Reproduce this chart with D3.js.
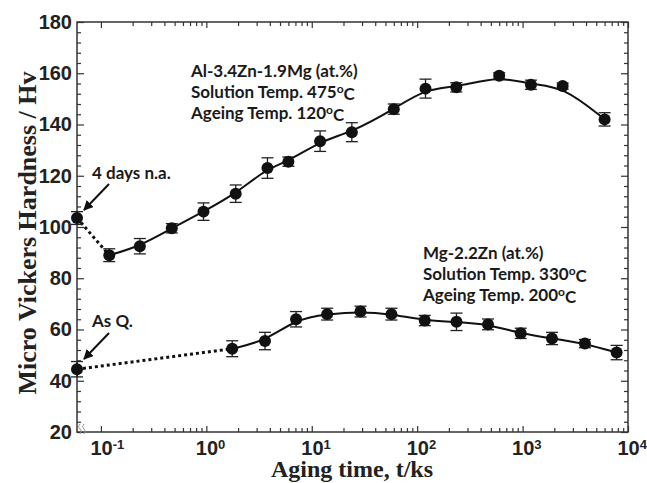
<!DOCTYPE html>
<meta charset="utf-8">
<script src="https://cdn.jsdelivr.net/npm/d3@7/dist/d3.min.js"></script>
<style>
    body { margin: 0; background: #fff; }
    .note { font-family: Lato, "Open Sans", sans-serif; font-weight: bold; font-size: 17px; fill: #1a1a1a; }
    .tk text { font-family: "Liberation Sans", Arial, sans-serif; font-weight: bold; font-size: 20px; fill: #222; }
    .tk line { stroke: #333; stroke-width: 1.2; }
    .tk path { display: none; }
    .axlabel { font-family: "Liberation Serif", "Times New Roman", serif; font-weight: bold; fill: #222; }
</style>

<svg width="647" height="483"></svg>

<script>
    // as quenched / natural aged points sit on the left edge of the axis
    var XMIN = 0.0593;

    // Al-3.4Zn-1.9Mg, aged at 120C
    var alTime = [XMIN, 0.12, 0.234, 0.47, 0.94, 1.9, 3.8, 6.0, 12, 24, 60, 120, 235, 600, 1200, 2400, 6000];
    var alHv = [103.5, 89, 92.5, 99.5, 106, 113, 123, 125.5, 133.5, 137, 146, 154, 154.5, 159, 155.5, 155, 142];
    var alErr = [2.5, 2.5, 3, 1.8, 3.4, 3.4, 4, 1.8, 4, 3.7, 2, 3.7, 1.8, 1.2, 1.8, 1.2, 2.6];

    // Mg-2.2Zn, aged at 200C
    var mgTime = [XMIN, 1.76, 3.6, 7.1, 14, 29, 57, 118, 236, 470, 960, 1900, 3900, 7800];
    var mgHv = [44.5, 52.5, 55.5, 64, 66, 67, 66, 63.5, 63, 62, 58.5, 56.5, 54.5, 51];
    var mgErr = [3, 3.1, 3.4, 3, 2.3, 2.1, 2.3, 2, 3.4, 2.1, 2, 2.4, 1.6, 2.8];

    var yTicks = [20, 40, 60, 80, 100, 120, 140, 160, 180];
    var xTicks = [0.1, 1, 10, 100, 1000, 10000];
    var xExp = ["-1", "0", "1", "2", "3", "4"];

    var svg = d3.select("svg");
    var pL = 77, pR = 628, pT = 22, pB = 432;

    var x = d3.scaleLog().domain([XMIN, 10000]).range([pL, pR]);
    var y = d3.scaleLinear().domain([20, 180]).range([pB, pT]);

    // minor ticks
    var xMinor = [];
    for (var d = -1; d < 4; d++) {
        for (var k = 2; k < 10; k++) xMinor.push(k * Math.pow(10, d));
    }
    var yMinor = d3.range(20, 181, 4).filter(function (v) { return v % 20 != 0; });

    // frame
    svg.append("rect")
        .attr("x", pL).attr("y", pT)
        .attr("width", pR - pL).attr("height", pB - pT)
        .attr("fill", "none").attr("stroke", "#333").attr("stroke-width", 1.5);

    // bottom axis
    var gx = svg.append("g").attr("class", "tk")
        .attr("transform", "translate(0," + pB + ")")
        .call(d3.axisBottom(x).tickValues(xTicks).tickSizeInner(-6).tickSizeOuter(0).tickPadding(9));
    gx.selectAll(".tick text")
        .attr("text-anchor", "start")
        .attr("x", -11)
        .text("10")
        .append("tspan")
        .attr("dy", "-0.45em")
        .style("font-size", "13px")
        .text(function (d, i) { return xExp[i]; });
    svg.append("g").attr("class", "tk")
        .attr("transform", "translate(0," + pB + ")")
        .call(d3.axisBottom(x).tickValues(xMinor).tickSizeInner(-4).tickSizeOuter(0).tickFormat(""));

    // top axis
    svg.append("g").attr("class", "tk")
        .attr("transform", "translate(0," + pT + ")")
        .call(d3.axisTop(x).tickValues(xTicks).tickSizeInner(-6).tickSizeOuter(0).tickFormat(""));
    svg.append("g").attr("class", "tk")
        .attr("transform", "translate(0," + pT + ")")
        .call(d3.axisTop(x).tickValues(xMinor).tickSizeInner(-4).tickSizeOuter(0).tickFormat(""));

    // left axis
    svg.append("g").attr("class", "tk")
        .attr("transform", "translate(" + pL + ",0)")
        .call(d3.axisLeft(y).tickValues(yTicks).tickSizeInner(-7).tickSizeOuter(0).tickPadding(5));
    svg.append("g").attr("class", "tk")
        .attr("transform", "translate(" + pL + ",0)")
        .call(d3.axisLeft(y).tickValues(yMinor).tickSizeInner(-4).tickSizeOuter(0).tickFormat(""));

    // right axis
    svg.append("g").attr("class", "tk")
        .attr("transform", "translate(" + pR + ",0)")
        .call(d3.axisRight(y).tickValues(yTicks).tickSizeInner(-7).tickSizeOuter(0).tickFormat(""));
    svg.append("g").attr("class", "tk")
        .attr("transform", "translate(" + pR + ",0)")
        .call(d3.axisRight(y).tickValues(yMinor).tickSizeInner(-4).tickSizeOuter(0).tickFormat(""));

    // axis break mark
    [0, 4].forEach(function (o) {
        svg.append("path")
            .attr("d", "M" + (pL + 3 + o) + "," + (pB + 2) + " q3,-3 0,-5 q-3,-2 0,-5")
            .attr("fill", "none").attr("stroke", "#999").attr("stroke-width", 1);
    });

    // axis titles
    svg.append("text").attr("class", "axlabel")
        .attr("x", 352).attr("y", 477)
        .attr("text-anchor", "middle")
        .style("font-size", "24px")
        .text("Aging time, t/ks");
    svg.append("text").attr("class", "axlabel")
        .attr("transform", "translate(36,233) rotate(-90)")
        .attr("text-anchor", "middle")
        .style("font-size", "26px")
        .text("Micro Vickers Hardness / Hv");

    function series(times, hv, err) {
        var pts = times.map(function (t, i) { return [t, hv[i], err[i]]; });
        var line = d3.line()
            .x(function (d) { return x(d[0]); })
            .y(function (d) { return y(d[1]); });

        // dotted link from the starting state
        svg.append("path")
            .datum(pts.slice(0, 2))
            .attr("d", line)
            .attr("fill", "none").attr("stroke", "#111")
            .attr("stroke-width", 3).attr("stroke-dasharray", "3,3");

        // fitted trend
        svg.append("path")
            .datum(pts.slice(1))
            .attr("d", line.curve(d3.curveBasis))
            .attr("fill", "none").attr("stroke", "#111").attr("stroke-width", 2);

        var g = svg.append("g").selectAll("g").data(pts).enter().append("g");
        g.append("line")
            .attr("x1", function (d) { return x(d[0]); })
            .attr("x2", function (d) { return x(d[0]); })
            .attr("y1", function (d) { return y(d[1] - d[2]); })
            .attr("y2", function (d) { return y(d[1] + d[2]); })
            .attr("stroke", "#222").attr("stroke-width", 1.3);
        [-1, 1].forEach(function (s) {
            g.append("line")
                .attr("x1", function (d) { return x(d[0]) - 6; })
                .attr("x2", function (d) { return x(d[0]) + 6; })
                .attr("y1", function (d) { return y(d[1] + s * d[2]); })
                .attr("y2", function (d) { return y(d[1] + s * d[2]); })
                .attr("stroke", "#222").attr("stroke-width", 1.3);
        });
        g.append("circle")
            .attr("cx", function (d) { return x(d[0]); })
            .attr("cy", function (d) { return y(d[1]); })
            .attr("r", 6)
            .attr("fill", "#111");
    }

    series(alTime, alHv, alErr);
    series(mgTime, mgHv, mgErr);

    // arrows
    svg.append("defs").append("marker")
        .attr("id", "ah")
        .attr("viewBox", "0 0 10 10")
        .attr("refX", 9).attr("refY", 5)
        .attr("markerWidth", 5).attr("markerHeight", 5)
        .attr("orient", "auto")
        .append("path").attr("d", "M0,0 L10,5 L0,10 z").attr("fill", "#111");

    function arrow(x1, y1, x2, y2) {
        svg.append("line")
            .attr("x1", x1).attr("y1", y1).attr("x2", x2).attr("y2", y2)
            .attr("stroke", "#111").attr("stroke-width", 2)
            .attr("marker-end", "url(#ah)");
    }
    arrow(109, 184, 84, 210);
    arrow(109, 333, 84, 359);

    svg.append("text").attr("class", "note").attr("x", 92).attr("y", 179).text("4 days n.a.");
    svg.append("text").attr("class", "note").attr("x", 92).attr("y", 327).text("As Q.");

    function block(x0, y0, lines) {
        lines.forEach(function (l, i) {
            var t = svg.append("text").attr("class", "note")
                .attr("x", x0).attr("y", y0 + i * 21);
            t.append("tspan").text(l[0]);
            if (l.length > 1) {
                t.append("tspan").attr("dy", "-0.4em").style("font-size", "12px").text("o");
                t.append("tspan").attr("dy", "0.4em").text(l[1]);
            }
        });
    }
    block(191, 77, [["Al-3.4Zn-1.9Mg (at.%)"], ["Solution Temp. 475", "C"], ["Ageing Temp. 120", "C"]]);
    block(423, 259, [["Mg-2.2Zn (at.%)"], ["Solution Temp. 330", "C"], ["Ageing Temp. 200", "C"]]);
</script>
